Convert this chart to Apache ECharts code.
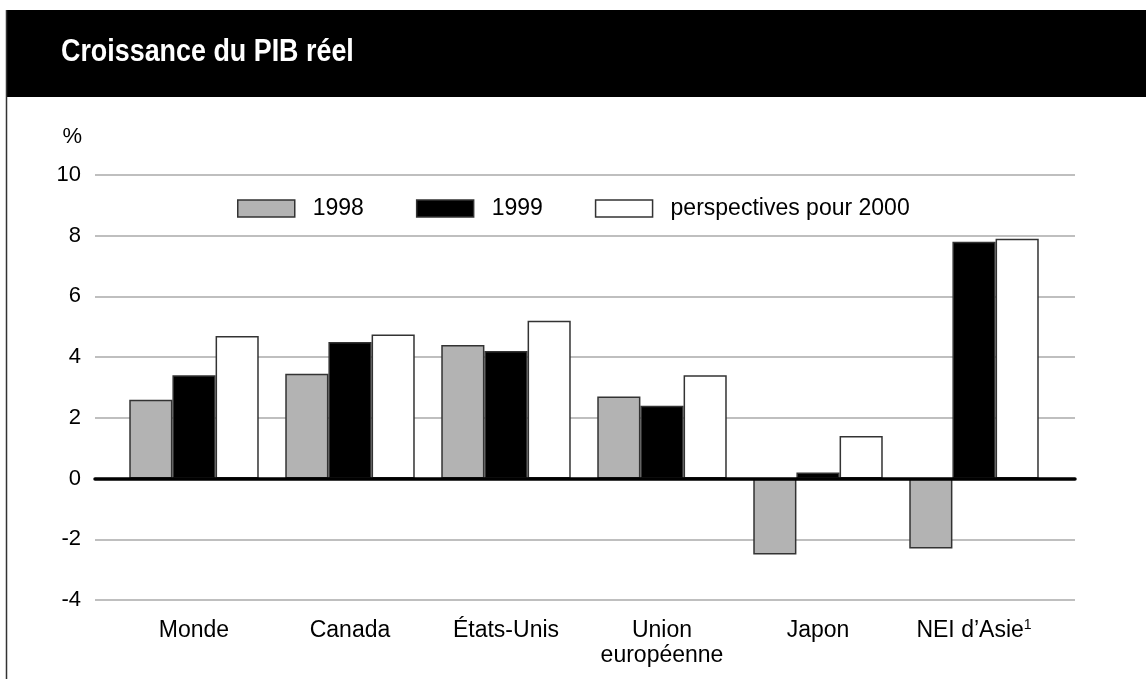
<!DOCTYPE html>
<html>
<head>
<meta charset="utf-8">
<script src="https://cdn.jsdelivr.net/npm/echarts@6/dist/echarts.min.js"></script>
<style>
html,body{margin:0;padding:0;background:#fff;}
#chart{width:1146px;height:679px;}
</style>
</head>
<body>
<div id="chart"></div>
<script>
const titleText = 'Croissance du PIB réel';
const unitLabel = '%';
const categories = ['Monde', 'Canada', 'États-Unis', 'Union\neuropéenne', 'Japon', 'NEI d’Asie¹'];
const seriesNames = ['1998', '1999', 'perspectives pour 2000'];
const values1998 = [2.6, 3.45, 4.4, 2.7, -2.5, -2.3];
const values1999 = [3.4, 4.5, 4.2, 2.4, 0.2, 7.8];
const values2000 = [4.7, 4.75, 5.2, 3.4, 1.4, 7.9];
const yTicks = { min: -4, max: 10, interval: 2 };

const FONT = '"Liberation Sans", Arial, Helvetica, sans-serif';
const chart = echarts.init(document.getElementById('chart'), null, {renderer: 'canvas'});

const fills = ['#b3b3b3', '#000000', '#ffffff'];
const seriesData = [values1998, values1999, values2000];

const barSeries = seriesNames.map((name, i) => ({
  name: name,
  type: 'bar',
  xAxisIndex: 1,
  yAxisIndex: 1,
  data: seriesData[i],
  barGap: '0%',
  barCategoryGap: '17%',
  itemStyle: { color: fills[i], borderColor: '#333', borderWidth: 1.5 },
  emphasis: { disabled: true },
  animation: false,
  z: 2
}));

const option = {
  animation: false,
  backgroundColor: '#fff',
  graphic: [
    { type: 'rect', shape: { x: 6, y: 10, width: 1140, height: 87 }, style: { fill: '#000' }, z: 0 },
    { type: 'line', shape: { x1: 6.5, y1: 10, x2: 6.5, y2: 679 }, style: { stroke: '#333', lineWidth: 1.5 }, z: 1 },
    { type: 'text', x: 61, y: 52, scaleX: 0.84, style: { text: titleText, fill: '#fff', font: 'bold 32px "Liberation Sans", Arial, sans-serif', textAlign: 'left', textVerticalAlign: 'middle' }, z: 2 },
    { type: 'text', x: 82, y: 137, style: { text: unitLabel, fill: '#000', font: '22px ' + FONT, textAlign: 'right', textVerticalAlign: 'middle' }, z: 2 }
  ],
  legend: {
    data: seriesNames,
    left: 237,
    top: 197,
    padding: 0,
    itemWidth: 57,
    itemHeight: 17,
    itemGap: 52,
    icon: 'rect',
    selectedMode: false,
    itemStyle: { borderColor: '#333', borderWidth: 1.5 },
    textStyle: { fontFamily: FONT, fontSize: 23, color: '#000', padding: [0, 0, 0, 13] }
  },
  grid: [
    { left: 95, top: 175, width: 980, height: 425, containLabel: false },
    { left: 116, top: 175, width: 936, height: 425, containLabel: false }
  ],
  xAxis: [
    {
      gridIndex: 0, type: 'value', min: 0, max: 1, show: true,
      axisLine: { show: true, onZero: true, lineStyle: { color: '#000', width: 3.5 } },
      axisTick: { show: false }, axisLabel: { show: false }, splitLine: { show: false },
      z: 10
    },
    {
      gridIndex: 1, type: 'category', data: categories,
      axisLine: { show: false }, axisTick: { show: false },
      axisLabel: {
        fontFamily: FONT, fontSize: 23, color: '#000', margin: 18, lineHeight: 25, interval: 0,
        formatter: function (v) { return v.replace('¹', '{sup|1}'); },
        rich: { sup: { fontFamily: FONT, fontSize: 14, color: '#000', verticalAlign: 'top', lineHeight: 25, padding: [0, 0, 8, 0] } }
      },
      splitLine: { show: false }
    }
  ],
  yAxis: [
    {
      gridIndex: 0, type: 'value', min: yTicks.min, max: yTicks.max, interval: yTicks.interval,
      axisLine: { show: false }, axisTick: { show: false },
      axisLabel: { fontFamily: FONT, fontSize: 22, color: '#000', margin: 14 },
      splitLine: { show: true, lineStyle: { color: '#aaa', width: 1.5 } }
    },
    {
      gridIndex: 1, type: 'value', min: yTicks.min, max: yTicks.max, interval: yTicks.interval,
      show: false, splitLine: { show: false }
    }
  ],
  series: barSeries
};
chart.setOption(option);
</script>
</body>
</html>
